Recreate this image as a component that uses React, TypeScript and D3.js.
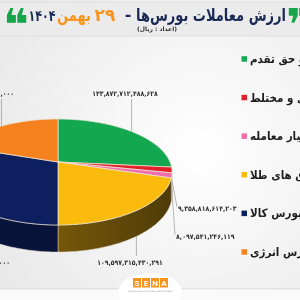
import React from 'react';
import * as d3 from 'd3';

// ---- data ----
const categories = [
  'سهام و حق تقدم',
  'صندوق‌های سهامی و مختلط',
  'اختیار معامله',
  'صندوق های طلا',
  'بازار فیزیکی بورس کالا',
  'بازار فیزیکی بورس انرژی',
];
const values = [
  143872712488628, 9358818614203, 8097541246119, 109597315430291, 163745825000000, 107180563000000,
];
const colors = ['#13a84f', '#e3212b', '#f06fac', '#fbbb0d', '#0d1f5e', '#f5821f'];
const sideColors = ['#0b6a31', '#8c1218', '#a4466f', 'url(#goldSide)', '#08133a', '#a35312'];
const titleMain = 'ارزش معاملات بورس‌ها';
const titleDay = '۲۹';
const titleMonth = 'بهمن';
const titleYear = '۱۴۰۴';
const subtitle = '(اعداد : ریال)';

// label layout (per slice): anchor, x, y, leader end
const labelLayout = [
  { anchor: 'middle', x: 125, y: 96, h: 0, lx: null as number | null, ly: 99 as number | null },
  { anchor: 'start', x: 178, y: 211, h: 0.5, lx: 177, ly: 207 },
  { anchor: 'start', x: 176, y: 239, h: 0.6, lx: 175, ly: 235 },
  { anchor: 'middle', x: 130, y: 265, h: 1, lx: null, ly: 256 },
  { anchor: 'end', x: 10, y: 265, h: 1, lx: null, ly: null },
  { anchor: 'end', x: 14, y: 96, h: 0, lx: null, ly: 99 },
];

const FONT = '"DejaVu Sans", sans-serif';
const toFa = (s: string) => s.replace(/\d/g, (d) => '۰۱۲۳۴۵۶۷۸۹'[+d]);

// perspective pie geometry
const cx = 58, cy = 162, s = 112, ty = 51.1, td = 21.9, k = 0.189;
function proj(theta: number, r: number, h: number): [number, number] {
  const X = r * Math.sin(theta);
  const Z = -r * Math.cos(theta);
  const den = 1 - k * Z;
  return [cx + (s * X) / den, cy + (ty * Z + td * h) / den];
}
const thetaL = Math.acos(-k);
const thetaR = 2 * Math.PI - thetaL;

function samples(a0: number, a1: number) {
  const n = Math.max(2, Math.ceil((a1 - a0) / (Math.PI / 180)));
  return d3.range(n + 1).map((i) => a0 + ((a1 - a0) * i) / n);
}

export default function App() {
  const pie = d3.pie<number>().sort(null).startAngle(0).endAngle(2 * Math.PI).value((d) => d);
  const arcs = pie(values);
  const line = d3.line();

  const tops = arcs.map((a) => {
    const pts: [number, number][] = [[cx, cy], ...samples(a.startAngle, a.endAngle).map((t) => proj(t, 1, 0))];
    return line(pts) + 'Z';
  });
  const sides = arcs.map((a) => {
    const a0 = Math.max(a.startAngle, thetaL);
    const a1 = Math.min(a.endAngle, thetaR);
    if (a1 <= a0) return null;
    const ts = samples(a0, a1);
    const pts = [...ts.map((t) => proj(t, 1, 0)), ...ts.slice().reverse().map((t) => proj(t, 1, 1))];
    return line(pts) + 'Z';
  });
  const fmt = d3.format(',.0f');

  const legendY = d3.scalePoint<number>().domain(d3.range(categories.length)).range([59, 252]);

  return (
    <svg width={300} height={300} style={{ position: 'fixed', left: 0, top: 0 }} fontFamily={FONT}>
      <defs>
        <radialGradient id="bg" cx="200" cy="150" r="230" gradientUnits="userSpaceOnUse">
          <stop offset="0" stopColor="#ffffff" />
          <stop offset="1" stopColor="#e9e9e9" />
        </radialGradient>
        <linearGradient id="goldSide" x1="58" x2="172" y1="0" y2="0" gradientUnits="userSpaceOnUse">
          <stop offset="0" stopColor="#765709" />
          <stop offset="1" stopColor="#4e3b08" />
        </linearGradient>
      </defs>
      <rect x={0} y={0} width={300} height={300} fill="url(#bg)" />
      {/* header */}
      <rect x={-10} y={2} width={320} height={34} rx={10} fill="#ebebeb" stroke="#dedede" />
      <text x={3} y={40} fontSize={44} fill="#16a54b" fontWeight="bold">❝</text>
      <text x={286} y={40} fontSize={44} fill="#16a54b" fontWeight="bold">❞</text>
      <text x={211} y={21} fontSize={17} fontWeight="bold" fill="#1b2a55" textAnchor="middle"
        textLength={150} lengthAdjust="spacingAndGlyphs">{titleMain}</text>
      <text x={128} y={20} fontSize={16} fontWeight="bold" fill="#1b2a55" textAnchor="middle">-</text>
      <text x={105} y={21} fontSize={17} fontWeight="bold" fill="#f7941d" textAnchor="middle">{titleDay}</text>
      <text x={74} y={21} fontSize={17} fontWeight="bold" fill="#f7941d" textAnchor="middle"
        textLength={34} lengthAdjust="spacingAndGlyphs">{titleMonth}</text>
      <text x={42} y={21} fontSize={15} fontWeight="bold" fill="#1b2a55" textAnchor="middle"
        textLength={27} lengthAdjust="spacingAndGlyphs">{titleYear}</text>
      <text x={157} y={31} fontSize={6} fontWeight="bold" fill="#333" textAnchor="middle" direction="rtl">{subtitle}</text>

      {/* pie sides */}
      {sides.map((d, i) => d && (
        <path key={'s' + i} d={d} fill={sideColors[i]} stroke="#d9d2c2" strokeWidth={0.5} />
      ))}
      {/* pie tops */}
      {tops.map((d, i) => (
        <path key={'t' + i} d={d} fill={colors[i]} stroke="#eee7d8" strokeWidth={0.7} />
      ))}

      {/* labels */}
      {arcs.map((a, i) => {
        const L = labelLayout[i];
        const mid = (a.startAngle + a.endAngle) / 2;
        const p = proj(mid, 1, L.h);
        const txt = toFa(fmt(values[i]));
        return (
          <g key={'l' + i}>
            {L.ly !== null && (
              <line x1={p[0]} y1={p[1]} x2={L.lx ?? p[0]} y2={L.ly} stroke="#9a9a9a" strokeWidth={0.7} />
            )}
            <text x={L.x} y={L.y} fontSize={7} fontWeight="bold" fill="#333" textAnchor={L.anchor as any}
              textLength={txt.length * 3.45} lengthAdjust="spacingAndGlyphs">{txt}</text>
          </g>
        );
      })}

      {/* legend */}
      {categories.map((c, i) => (
        <g key={'g' + i}>
          <rect x={241.5} y={legendY(i)! - 2.8} width={5.5} height={5.5} fill={colors[i]} />
          <text x={250} y={legendY(i)! + 4} fontSize={11.5} fontWeight="bold" fill="#1e1e1e"
            fontFamily='"DejaVu Sans Condensed", "DejaVu Sans", sans-serif' fontStretch="condensed">{c}</text>
        </g>
      ))}

      {/* footer */}
      <line x1={0} x2={300} y1={289} y2={289} stroke="#d6d6d6" />
      <rect x={0} y={289.5} width={300} height={11} fill="#fafafa" />
      <ellipse cx={150} cy={292} rx={32} ry={19} fill="#ffffff" />
      {['S', 'E', 'N', 'A'].map((ch, i) => (
        <g key={'n' + i}>
          <rect x={133 + i * 9} y={278} width={8} height={9.5} fill="#f7941d" />
          <text x={137 + i * 9} y={286} fontSize={8} fontFamily="Roboto, sans-serif" fontWeight="bold" fill="#fff" textAnchor="middle">{ch}</text>
        </g>
      ))}
      <text x={151} y={292} fontSize={2.2} fill="#999" textAnchor="middle">SECURITIES &amp; EXCHANGE NEWS AGENCY</text>
    </svg>
  );
}
